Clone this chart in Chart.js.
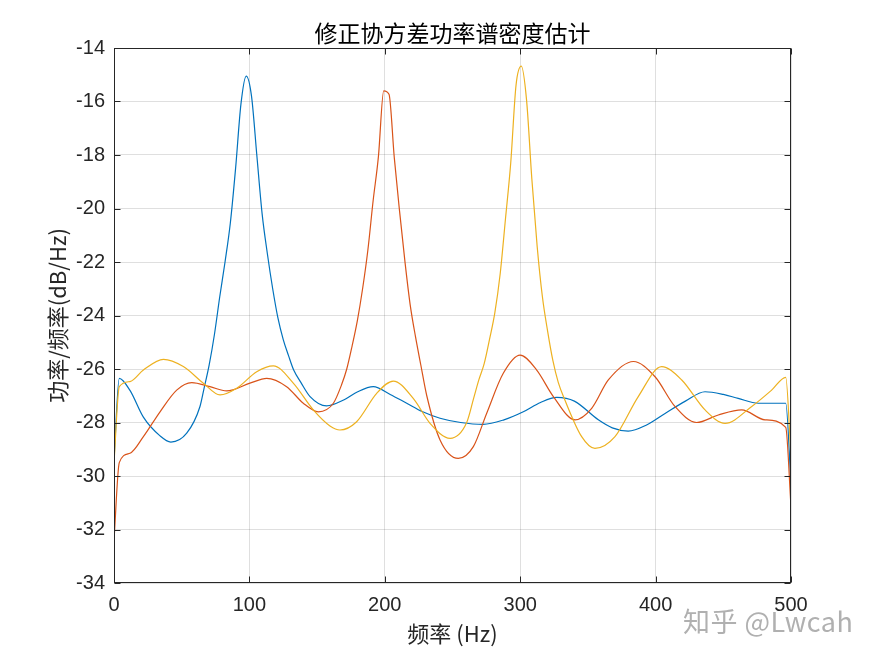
<!DOCTYPE html>
<html>
<head>
<meta charset="utf-8">
<script src="https://cdn.jsdelivr.net/npm/chart.js@4/dist/chart.umd.min.js"></script>
<style>
  html, body { margin: 0; padding: 0; background: #ffffff; }
  #wrap { position: relative; width: 875px; height: 656px; }
  #c { display: block; }
  #wm { position: absolute; left: 683px; top: 604px; font: 27px "Noto Sans CJK SC", "Liberation Sans", sans-serif; color: #b0b0b0; white-space: nowrap; line-height: 34px; letter-spacing: 0.5px; }
</style>
</head>
<body>
<div id="wrap">
  <canvas id="c" width="875" height="656"></canvas>
  <div id="wm">知乎 @Lwcah</div>
</div>
<script>
// ---- data ----
const chartTitle = '修正协方差功率谱密度估计';
const xAxisTitle = '频率 (Hz)';
const yAxisTitle = '功率/频率(dB/Hz)';

const xTicks = [0, 100, 200, 300, 400, 500];
const yTicks = [-34, -32, -30, -28, -26, -24, -22, -20, -18, -16, -14];

const blueHz = [0,3.9,11.8,21.7,34,42,53.7,63.5,66.4,70.3,74.2,78.1,82.0,85.9,89.8,93.75,97.66,101.56,105.47,109.4,113.3,117.2,121.1,125.0,128.9,132.8,138,144.8,157,170,180,191.5,204,216.2,228,240.8,256,272.7,288,302.3,315,327,340,357.7,368,379.8,393,407,422,436.5,450,461,475.9,486,496.1,500];
const blueDb = [-29.4,-26.35,-26.8,-27.8,-28.5,-28.73,-28.4,-27.4,-26.75,-25.85,-24.7,-23.3,-22.0,-20.55,-18.5,-16.1,-15.05,-15.8,-18.0,-20.2,-21.7,-23.0,-24.1,-24.9,-25.5,-26.05,-26.5,-27.03,-27.38,-27.15,-26.85,-26.66,-26.95,-27.28,-27.6,-27.84,-28.0,-28.07,-27.9,-27.6,-27.25,-27.06,-27.2,-27.9,-28.2,-28.32,-28.1,-27.66,-27.2,-26.85,-26.95,-27.1,-27.28,-27.28,-27.28,-30.3];

const redHz = [0,3.9,11.8,21.7,34,46.3,57.4,70.9,83.2,100.4,112.8,127.5,139.8,150.9,162,168,171.9,175.8,179.7,183.6,187.5,191.4,195.3,199.2,203.1,207.0,210.9,214.8,218.75,222.7,226.6,231,240.8,254.3,265.4,275.2,287.5,299.9,312.2,324.5,340.5,352.8,365.1,383.6,399.6,414.3,430.3,446.3,463.6,480.8,496.1,500];
const redDb = [-32.4,-29.5,-29.15,-28.53,-27.6,-26.79,-26.51,-26.66,-26.82,-26.53,-26.35,-26.66,-27.28,-27.6,-27.28,-26.6,-26.0,-25.15,-24.2,-23.0,-21.55,-19.7,-18.05,-15.6,-15.73,-18.1,-20.1,-21.95,-23.6,-24.8,-25.85,-27.0,-28.65,-29.34,-28.9,-27.66,-26.16,-25.48,-26.04,-27.03,-27.9,-27.47,-26.41,-25.72,-26.29,-27.4,-28.0,-27.72,-27.53,-27.9,-28.18,-31.15];

const yellowHz = [0,3.9,11.8,21.7,36.5,51.2,66,78.3,90.6,105.4,117.7,132.4,147.2,159.5,166.9,179.2,194,206.3,221,233.4,248.2,260.5,265.6,269.5,273.4,277.3,281.25,285.2,289.1,293.0,296.9,300.8,304.7,308.6,312.5,316.4,320.3,324.2,328.1,333,345.4,355.2,370,387.2,404.5,419.3,436.5,451.3,471,485.7,496.1,500];
const yellowDb = [-29.5,-26.66,-26.47,-26.04,-25.64,-25.91,-26.53,-26.97,-26.72,-26.1,-25.88,-26.53,-27.53,-28.13,-28.28,-27.97,-26.91,-26.45,-27.1,-28.03,-28.59,-28.0,-27.1,-26.4,-25.8,-24.9,-23.9,-22.45,-20.4,-18.3,-15.4,-14.68,-15.95,-18.9,-21.4,-23.3,-24.6,-25.7,-26.5,-27.16,-28.53,-28.97,-28.53,-27.03,-25.91,-26.41,-27.53,-28.03,-27.4,-26.79,-26.31,-29.3];

// ---- build chart ----
function pts(xs, ys) { return xs.map((x, i) => ({ x: x, y: ys[i] })); }

const axisColor = '#262626';
const tickFont = { family: '"Liberation Sans", Arial, Helvetica, sans-serif', size: 20 };
const cjkFont = '"Noto Sans CJK SC", "Liberation Sans", sans-serif';

const boxPlugin = {
  id: 'matlabBox',
  afterDraw(chart) {
    const { ctx, chartArea, scales } = chart;
    const L = Math.round(chartArea.left) + 0.5, R = Math.round(chartArea.right) - 0.5;
    const T = Math.round(chartArea.top) + 0.5, B = Math.round(chartArea.bottom) - 0.5;
    ctx.save();
    ctx.strokeStyle = axisColor;
    ctx.lineWidth = 1;
    ctx.strokeRect(L, T, R - L, B - T);
    const len = 6;
    ctx.beginPath();
    xTicks.forEach(v => {
      const px = Math.round(scales.x.getPixelForValue(v)) + 0.5;
      ctx.moveTo(px, B); ctx.lineTo(px, B - len);
      ctx.moveTo(px, T); ctx.lineTo(px, T + len);
    });
    yTicks.forEach(v => {
      const py = Math.round(scales.y.getPixelForValue(v)) + 0.5;
      ctx.moveTo(L, py); ctx.lineTo(L + len, py);
      ctx.moveTo(R, py); ctx.lineTo(R - len, py);
    });
    ctx.stroke();
    ctx.restore();
  }
};

const lineDefaults = { showLine: true, pointRadius: 0, borderWidth: 1.2, fill: false, cubicInterpolationMode: 'monotone' };

new Chart(document.getElementById('c'), {
  type: 'scatter',
  data: {
    datasets: [
      Object.assign({ label: 'S1', data: pts(blueHz, blueDb), borderColor: '#0072BD', order: 3 }, lineDefaults),
      Object.assign({ label: 'S2', data: pts(redHz, redDb), borderColor: '#D95319', order: 2 }, lineDefaults),
      Object.assign({ label: 'S3', data: pts(yellowHz, yellowDb), borderColor: '#EDB120', order: 1 }, lineDefaults)
    ]
  },
  options: {
    responsive: false,
    animation: false,
    devicePixelRatio: 1,
    layout: { padding: { left: 0, right: 84, top: 0, bottom: 0 } },
    plugins: {
      legend: { display: false },
      tooltip: { enabled: false },
      title: {
        display: true,
        text: chartTitle,
        fullSize: false,
        color: '#000000',
        font: { family: cjkFont, size: 23, weight: 'normal', lineHeight: 1.2 },
        padding: { top: 19, bottom: 1.4 }
      }
    },
    scales: {
      x: {
        type: 'linear',
        min: 0, max: 500,
        afterBuildTicks: (s) => { s.ticks = xTicks.map(v => ({ value: v })); },
        afterFit: (s) => { s.height = 73; },
        grid: { color: 'rgba(38,38,38,0.15)', drawTicks: false, lineWidth: 1 },
        border: { display: false },
        ticks: { color: axisColor, font: tickFont, padding: 10, maxRotation: 0 },
        title: { display: true, text: xAxisTitle, color: axisColor, font: { family: cjkFont, size: 22, lineHeight: 1.2 }, padding: { top: 0, bottom: 9 } }
      },
      y: {
        type: 'linear',
        min: -34, max: -14,
        afterBuildTicks: (s) => { s.ticks = yTicks.map(v => ({ value: v })); },
        afterFit: (s) => { s.width = 114; },
        grid: { color: 'rgba(38,38,38,0.15)', drawTicks: false, lineWidth: 1 },
        border: { display: false },
        ticks: { color: axisColor, font: tickFont, padding: 9 },
        title: { display: true, text: yAxisTitle, color: axisColor, font: { family: cjkFont, size: 22, lineHeight: 1.2 }, padding: { top: 44, bottom: 0 } }
      }
    }
  },
  plugins: [boxPlugin]
});
</script>
</body>
</html>
